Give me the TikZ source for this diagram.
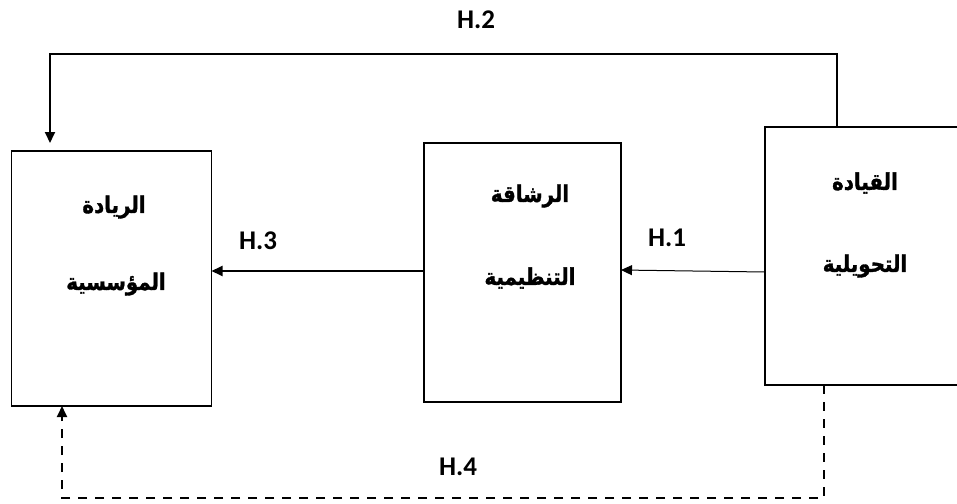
\documentclass[tikz,border=0pt]{standalone}
\usepackage{fontspec}
\TeXXeTstate=1
\newfontfamily\arabicfont[Script=Arabic,BoldFeatures={FakeBold=1.5}]{DejaVu Sans}
\newfontfamily\labelfont{Carlito}
\usetikzlibrary{arrows.meta}
\newcommand\arterm[1]{\scalebox{0.86}[1]{\beginR #1\endR}}
\begin{document}
\begin{tikzpicture}[x=1pt,y=-1pt,
  box/.style={draw,line width=1.8pt,inner sep=0pt,outer sep=0pt},
  term/.style={font=\arabicfont\bfseries\fontsize{23}{27}\selectfont,inner sep=0pt},
  hyp/.style={font=\labelfont\bfseries\fontsize{27}{31}\selectfont,inner sep=0pt},
  link/.style={line width=1.8pt,-{Triangle[length=11pt,width=10pt]}},
  thinlink/.style={line width=1pt,-{Triangle[length=11pt,width=10pt]}},
  dashlink/.style={line width=1.8pt,dash pattern=on 9pt off 8pt,-{Triangle[length=11pt,width=10pt]}}]
\clip (0,0) rectangle (957,503);

% the three constructs
\node[box,minimum width=200pt,minimum height=255pt] (b1) at (111.5,278.5) {};
\node[box,minimum width=197pt,minimum height=259pt] (b2) at (522.5,272.5) {};
\node[box,minimum width=201pt,minimum height=258pt] (b3) at (865.5,256) {};

\node[term] (t1a) at (114,207) {\arterm{الريادة}};
\node[term] (t1b) at (116,284) {\arterm{المؤسسية}};
\node[term] (t2a) at (530,196) {\arterm{الرشاقة}};
\node[term] (t2b) at (530,278) {\arterm{التنظيمية}};
\node[term] (t3a) at (865,183) {\arterm{القيادة}};
\node[term] (t3b) at (865,266) {\arterm{التحويلية}};

% hypotheses
\draw[thinlink] (b3.west |- 0,272) -- (b2.east |- 0,270);
\draw[link] (b2.west |- 0,271) -- (b1.east |- 0,271);
\draw[link,shorten >=8pt] (b3.north -| 837,0) |- (50,54) -- (b1.north -| 50,0);
\draw[dashlink] (b3.south -| 824,0) |- (62,498) -- (b1.south -| 62,0);

\node[hyp] (h1) at (667,238) {H.1};
\node[hyp] (h2) at (476,20) {H.2};
\node[hyp] (h3) at (258,241) {H.3};
\node[hyp] (h4) at (458,467) {H.4};
\end{tikzpicture}
\end{document}
